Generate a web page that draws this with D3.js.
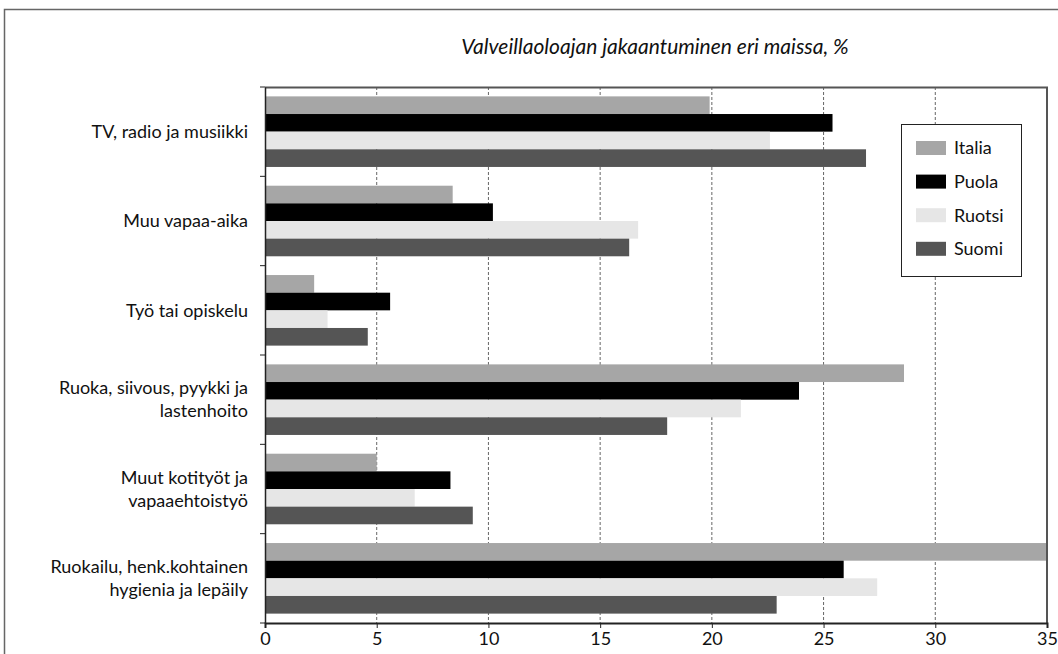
<!DOCTYPE html>
<html>
<head>
<meta charset="utf-8">
<script src="https://cdn.jsdelivr.net/npm/d3@7"></script>
<style>
  body { margin: 0; background: #fff; }
  svg { display: block; }
  text { font-family: "Lato", sans-serif; fill: #111; }
</style>
</head>
<body>
<svg id="chart" width="1058" height="654"></svg>
<script>
// categories, top to bottom (label lines)
var categories = [
    ["TV, radio ja musiikki"],
    ["Muu vapaa-aika"],
    ["Työ tai opiskelu"],
    ["Ruoka, siivous, pyykki ja", "lastenhoito"],
    ["Muut kotityöt ja", "vapaaehtoistyö"],
    ["Ruokailu, henk.kohtainen", "hygienia ja lepäily"]
];
var countries = ["Italia", "Puola", "Ruotsi", "Suomi"];
var colors = ["#a6a6a6", "#000000", "#e6e6e6", "#555555"];

// values in %, one array per country, same order as categories
var italia = [19.9, 8.4, 2.2, 28.6, 5.0, 35.2];
var puola  = [25.4, 10.2, 5.6, 23.9, 8.3, 25.9];
var ruotsi = [22.6, 16.7, 2.8, 21.3, 6.7, 27.4];
var suomi  = [26.9, 16.3, 4.6, 18.0, 9.3, 22.9];
var xTicks = [0, 5, 10, 15, 20, 25, 30, 35];
var title = "Valveillaoloajan jakaantuminen eri maissa, %";

var series = [italia, puola, ruotsi, suomi];

var svg = d3.select('#chart');
var margin = {left: 265, right: 11, top: 87, bottom: 31};
var W = 1058, H = 654;
var pw = W - margin.left - margin.right,
    ph = H - margin.top - margin.bottom;

// outer frame (only top and left visible)
svg.append('path')
    .attr('d', 'M4.5,' + H + 'V9.5H' + W)
    .attr('fill', 'none')
    .attr('stroke', '#666')
    .attr('stroke-width', 1.5);

svg.append('text')
    .attr('x', 655).attr('y', 54)
    .attr('text-anchor', 'middle')
    .style('font-style', 'italic')
    .style('font-size', '21px')
    .text(title);

var g = svg.append('g').attr('transform', 'translate(' + margin.left + ',' + margin.top + ')');

var x = d3.scaleLinear().domain([0, 35]).range([0, pw]);
var y0 = d3.scaleBand().domain(d3.range(categories.length)).range([0, ph]).padding(0);
var pad = y0.bandwidth() * 0.105;
var y1 = d3.scaleBand().domain(d3.range(countries.length)).range([pad, y0.bandwidth() - pad]);

// dashed gridlines
g.selectAll('line.grid')
    .data(xTicks.slice(1, -1))
    .enter().append('line')
    .attr('class', 'grid')
    .attr('x1', function(d){ return x(d); })
    .attr('x2', function(d){ return x(d); })
    .attr('y1', 0).attr('y2', ph)
    .attr('stroke', '#666')
    .attr('stroke-width', 1)
    .attr('stroke-dasharray', '3,2');

// bars
g.selectAll('g.cat')
    .data(categories)
    .enter().append('g')
    .attr('class', 'cat')
    .attr('transform', function(d, i){ return 'translate(0,' + y0(i) + ')'; })
    .each(function(d, i){
        d3.select(this).selectAll('rect')
            .data(series.map(function(s, j){ return {v: s[i], j: j}; }))
            .enter().append('rect')
            .attr('x', 0)
            .attr('y', function(e){ return y1(e.j); })
            .attr('width', function(e){ return Math.min(x(e.v), pw); })
            .attr('height', y1.bandwidth())
            .attr('fill', function(e){ return colors[e.j]; });
    });

// top and right border of plot
g.append('path')
    .attr('d', 'M0,0.5H' + pw + 'V' + ph)
    .attr('fill', 'none')
    .attr('stroke', '#555')
    .attr('stroke-width', 2);

// x axis
var xAxis = g.append('g')
    .attr('transform', 'translate(0,' + ph + ')')
    .call(d3.axisBottom(x).tickValues(xTicks).tickSize(5).tickPadding(4));
xAxis.select('.domain').attr('stroke', '#222').attr('stroke-width', 2);
xAxis.selectAll('.tick line').attr('stroke', '#222');
xAxis.selectAll('text').style('font-size', '18px').attr('fill', '#111')
    .style('font-family', '"Lato", sans-serif');

// y axis
var yAxis = g.append('g')
    .call(d3.axisLeft(y0).tickValues([]).tickSize(0));
yAxis.select('.domain').attr('stroke', '#222').attr('stroke-width', 1.5);
g.selectAll('line.ytick')
    .data(d3.range(categories.length + 1))
    .enter().append('line')
    .attr('class', 'ytick')
    .attr('x1', -5).attr('x2', 0)
    .attr('y1', function(i){ return i * y0.step(); })
    .attr('y2', function(i){ return i * y0.step(); })
    .attr('stroke', '#222');

// category labels
g.selectAll('text.cat')
    .data(categories)
    .enter().append('text')
    .attr('class', 'cat')
    .attr('text-anchor', 'end')
    .style('font-size', '18px')
    .attr('transform', function(d, i){ return 'translate(-17,' + (y0(i) + y0.bandwidth() / 2) + ')'; })
    .each(function(d){
        var t = d3.select(this);
        var lh = 23;
        d.forEach(function(line, k){
            t.append('tspan')
                .attr('x', 0)
                .attr('y', (k - (d.length - 1) / 2) * lh)
                .attr('dy', '0.35em')
                .text(line);
        });
    });

// legend
var lg = svg.append('g').attr('transform', 'translate(901,124)');
lg.append('rect')
    .attr('x', 0.5).attr('y', 0.5)
    .attr('width', 120).attr('height', 152)
    .attr('fill', '#fff')
    .attr('stroke', '#222');
lg.selectAll('g.item')
    .data(countries)
    .enter().append('g')
    .attr('class', 'item')
    .attr('transform', function(d, i){ return 'translate(15,' + (24 + i * 33.6) + ')'; })
    .each(function(d, i){
        var it = d3.select(this);
        it.append('rect')
            .attr('x', 0).attr('y', -7)
            .attr('width', 30).attr('height', 14)
            .attr('fill', colors[i]);
        it.append('text')
            .attr('x', 38).attr('dy', '0.35em')
            .style('font-size', '18px')
            .text(d);
    });
</script>
</body>
</html>
